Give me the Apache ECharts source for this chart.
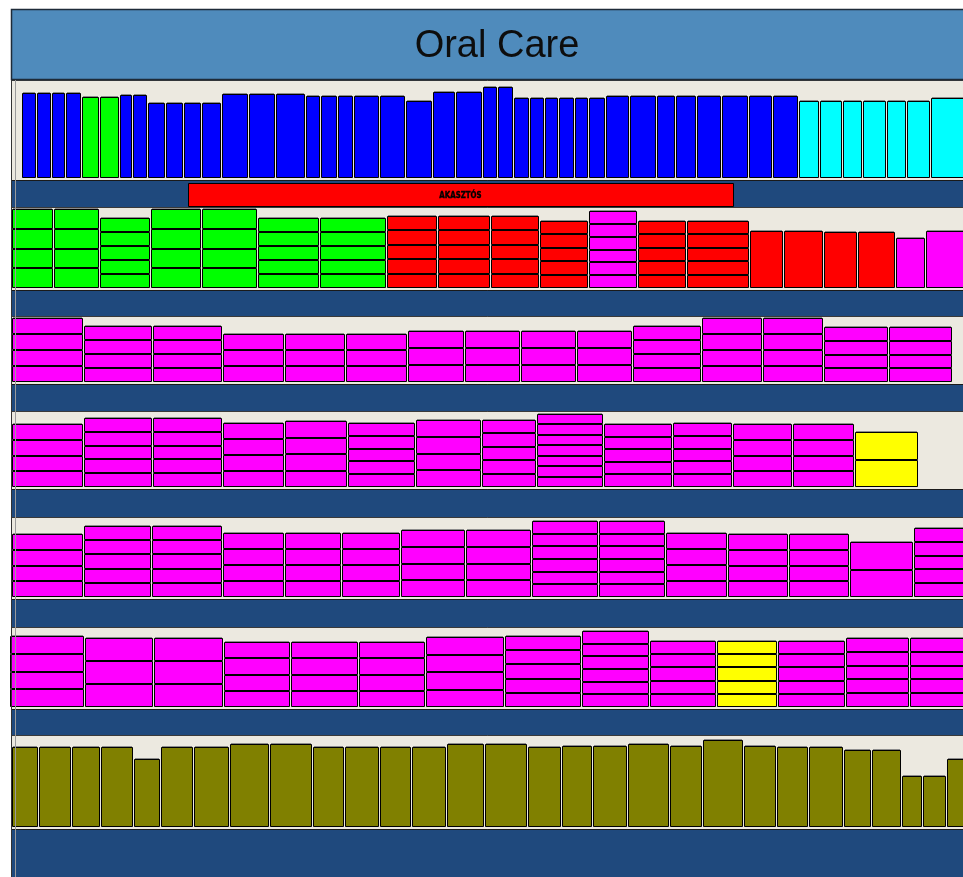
<!DOCTYPE html>
<html><head><meta charset="utf-8">
<script src="https://cdn.jsdelivr.net/npm/echarts@6/dist/echarts.min.js"></script>
<style>html,body{margin:0;padding:0;background:#fff;overflow:hidden}#c{width:963px;height:877px}</style>
</head><body><div id="c"></div>
<script>
// ---- planogram data (units: layout pixels; y measured downward) ----
const titleText = 'Oral Care';
const shelfTop   = [80, 207, 316, 411, 517, 627, 735];
const shelfBase  = [178, 288, 382, 487, 597, 707, 827];
const shelfStart = [22, 12, 12, 12, 12, 10, 12];

// product facings: [width, height, stacked rows, segment]
const shelf1 = [
  [15,85,1,'B'],[15,85,1,'B'],[14,85,1,'B'],[16,85,1,'B'],
  [18,81,1,'G'],[20,81,1,'G'],
  [13,83,1,'B'],[15,83,1,'B'],
  [18,75,1,'B'],[18,75,1,'B'],[18,75,1,'B'],[20,75,1,'B'],
  [27,84,1,'B'],[27,84,1,'B'],[30,84,1,'B'],
  [15,82,1,'B'],[17,82,1,'B'],[16,82,1,'B'],
  [26,82,1,'B'],[26,82,1,'B'],
  [27,77,1,'B'],
  [23,86,1,'B'],[27,86,1,'B'],
  [15,91,1,'B'],[16,91,1,'B'],
  [16,80,1,'B'],[15,80,1,'B'],
  [14,80,1,'B'],[16,80,1,'B'],
  [14,80,1,'B'],[17,80,1,'B'],
  [24,82,1,'B'],[27,82,1,'B'],
  [19,82,1,'B'],[21,82,1,'B'],
  [25,82,1,'B'],[27,82,1,'B'],
  [24,82,1,'B'],[26,82,1,'B'],
  [21,77,1,'C'],[23,77,1,'C'],
  [20,77,1,'C'],[24,77,1,'C'],
  [20,77,1,'C'],[24,77,1,'C'],
  [40,80,1,'C']
];
const shelf2 = [
  [42,79,4,'G'],[46,79,4,'G'],[51,70,5,'G'],[51,79,4,'G'],[56,79,4,'G'],
  [62,70,5,'G'],[67,70,5,'G'],
  [51,72,5,'R'],[53,72,5,'R'],[49,72,5,'R'],[49,67,5,'R'],
  [49,77,6,'M'],
  [49,67,5,'R'],[63,67,5,'R'],
  [34,57,1,'R'],[40,57,1,'R'],[34,56,1,'R'],[38,56,1,'R'],
  [30,50,1,'M'],[45,57,1,'M']
];
const shelf3 = [
  [72,64,4,'M'],[69,56,4,'M'],[70,56,4,'M'],[62,48,3,'M'],[61,48,3,'M'],
  [62,48,3,'M'],[57,51,3,'M'],[56,51,3,'M'],[56,51,3,'M'],[56,51,3,'M'],
  [69,56,4,'M'],[61,64,4,'M'],[61,64,4,'M'],[65,55,4,'M'],[64,55,4,'M']
];
const shelf4 = [
  [72,63,4,'M'],[69,69,5,'M'],[70,69,5,'M'],[62,64,4,'M'],[63,66,4,'M'],
  [68,64,5,'M'],[66,67,4,'M'],[55,67,5,'M'],[67,73,7,'M'],[69,63,5,'M'],
  [60,64,5,'M'],[60,63,4,'M'],[62,63,4,'M'],[64,55,2,'Y']
];
const shelf5 = [
  [72,63,4,'M'],[68,71,5,'M'],[71,71,5,'M'],[62,64,4,'M'],[57,64,4,'M'],
  [59,64,4,'M'],[65,67,4,'M'],[66,67,4,'M'],[67,76,6,'M'],[67,76,6,'M'],
  [62,64,4,'M'],[61,63,4,'M'],[61,63,4,'M'],[64,55,2,'M'],[64,69,5,'M']
];
const shelf6 = [
  [75,71,4,'M'],[69,69,3,'M'],[70,69,3,'M'],[67,65,4,'M'],[68,65,4,'M'],
  [67,65,4,'M'],[79,70,4,'M'],[77,71,5,'M'],[68,76,6,'M'],[67,66,5,'M'],
  [61,66,5,'Y'],[68,66,5,'M'],[64,69,5,'M'],[64,69,5,'M']
];
const shelf7 = [
  [27,80,1,'O'],[33,80,1,'O'],[29,80,1,'O'],[33,80,1,'O'],[27,68,1,'O'],
  [33,80,1,'O'],[36,80,1,'O'],[40,83,1,'O'],[43,83,1,'O'],[32,80,1,'O'],
  [35,80,1,'O'],[32,80,1,'O'],[35,80,1,'O'],[38,83,1,'O'],[43,83,1,'O'],
  [34,80,1,'O'],[31,81,1,'O'],[35,81,1,'O'],[42,83,1,'O'],[33,81,1,'O'],
  [41,87,1,'O'],[33,81,1,'O'],[32,80,1,'O'],[35,80,1,'O'],[28,77,1,'O'],
  [30,77,1,'O'],[21,51,1,'O'],[24,51,1,'O'],[40,68,1,'O']
];
const shelves = [shelf1, shelf2, shelf3, shelf4, shelf5, shelf6, shelf7];
// hanging strip labels: [label, from x, to x, shelf index]
const hangers = [['AKASZTÓS', 188, 733, 0]];

// ---- styling ----
const segmentColors = {B:'#0000FF', G:'#00FF00', C:'#00FFFF', R:'#FF0000', M:'#FF00FF', Y:'#FFFF00', O:'#808000'};
const PAGE_W = 963, PAGE_H = 877, FRAME_X = 11;

// ---- build series data from the arrays ----
const productItems = [];
shelves.forEach((list, si) => {
  let x = shelfStart[si];
  list.forEach(p => {
    productItems.push({value: [x, p[0], shelfBase[si], p[1], p[2]], seg: p[3]});
    x += p[0];
  });
});
const shelfItems = shelfTop.map((t, i) => [t, shelfBase[i], i + 1 < shelfTop.length ? shelfTop[i + 1] : PAGE_H]);
const hangerItems = hangers.map(h => ({value: [h[1], h[2], shelfBase[h[3]], shelfTop[h[3] + 1]], label: h[0]}));

const chart = echarts.init(document.getElementById('c'), null, {renderer: 'canvas'});
chart.setOption({
  animation: false,
  backgroundColor: '#ffffff',
  grid: {left: 0, right: 0, top: 0, bottom: 0},
  xAxis: {type: 'value', min: 0, max: PAGE_W, show: false},
  yAxis: {type: 'value', min: 0, max: PAGE_H, inverse: true, show: false},
  graphic: [
    {type: 'rect', z: 10, shape: {x: FRAME_X + 0.5, y: 9.5, width: PAGE_W + 10, height: 70},
     style: {fill: '#4F8BBC', stroke: '#1E2B38', lineWidth: 1.5}},
    {type: 'text', z: 11, x: 497, y: 47,
     style: {text: titleText, fill: '#0D0D0D', font: '38px "Liberation Sans", Arial, sans-serif',
             textAlign: 'center', textVerticalAlign: 'middle'}},
    {type: 'line', z: 10, shape: {x1: FRAME_X + 0.5, y1: 80, x2: FRAME_X + 0.5, y2: PAGE_H},
     style: {stroke: '#333', lineWidth: 1}},
    {type: 'line', z: 10, shape: {x1: FRAME_X + 4.5, y1: 80, x2: FRAME_X + 4.5, y2: PAGE_H},
     style: {stroke: '#9A9A9A', lineWidth: 1}}
  ],
  series: [
    {
      type: 'custom', name: 'shelves', silent: true, clip: true, z: 1,
      data: shelfItems,
      renderItem(params, api) {
        const top = api.value(0), base = api.value(1), bottom = api.value(2);
        const a = api.coord([FRAME_X, top]);
        const b = api.coord([PAGE_W + 5, base + 2]);
        const c = api.coord([PAGE_W + 5, bottom]);
        return {type: 'group', children: [
          {type: 'rect', shape: {x: a[0] + 0.5, y: a[1] + 0.5, width: b[0] - a[0], height: b[1] - a[1]},
           style: {fill: '#ECE9E0', stroke: '#3A3A3A', lineWidth: 1}},
          {type: 'rect', shape: {x: a[0] + 0.5, y: b[1] + 0.5, width: b[0] - a[0], height: c[1] - b[1]},
           style: {fill: '#1F497D', stroke: '#1A1A1A', lineWidth: 1}}
        ]};
      }
    },
    {
      type: 'custom', name: 'hangers', silent: true, clip: true, z: 3,
      data: hangerItems,
      renderItem(params, api) {
        const item = hangerItems[params.dataIndex];
        const a = api.coord([api.value(0), api.value(2) + 5]);
        const b = api.coord([api.value(1), api.value(3) - 1]);
        return {type: 'group', children: [
          {type: 'rect', shape: {x: a[0] + 0.5, y: a[1] + 0.5, width: b[0] - a[0], height: b[1] - a[1]},
           style: {fill: '#FF0000', stroke: '#000', lineWidth: 1}},
          {type: 'text', x: (a[0] + b[0]) / 2, y: (a[1] + b[1]) / 2 + 1, scaleX: 0.78,
           style: {text: item.label, fill: '#000', font: 'bold 9px "DejaVu Sans", sans-serif',
                   textAlign: 'center', textVerticalAlign: 'middle', stroke: '#000', lineWidth: 0.4}}
        ]};
      }
    },
    {
      type: 'custom', name: 'products', silent: true, clip: true, z: 2,
      data: productItems,
      renderItem(params, api) {
        const item = productItems[params.dataIndex];
        const x0 = api.value(0), w = api.value(1), base = api.value(2), h = api.value(3), rows = api.value(4);
        const fill = segmentColors[item.seg];
        const children = [];
        const rh = h / rows;
        const top = api.coord([x0, base - h]);
        const topR = api.coord([x0 + w - 1, base - h]);
        // faint shadow line along the product top
        children.push({type: 'line', shape: {x1: Math.round(top[0]) + 1, y1: Math.round(top[1]) - 0.5,
          x2: Math.round(topR[0]) - 1, y2: Math.round(top[1]) - 0.5}, style: {stroke: '#8C8C8C', lineWidth: 1}});
        for (let r = 0; r < rows; r++) {
          const p = api.coord([x0, base - h + r * rh]);
          const q = api.coord([x0 + w - 1, base - h + (r + 1) * rh]);
          children.push({type: 'rect',
            shape: {x: Math.round(p[0]) + 0.5, y: Math.round(p[1]) + 0.5,
                    width: Math.round(q[0]) - Math.round(p[0]) - 1, height: Math.round(q[1]) - Math.round(p[1]) - 1},
            style: {fill: fill, stroke: '#000', lineWidth: 1}});
        }
        return {type: 'group', children};
      }
    }
  ]
});
</script>
</body></html>
